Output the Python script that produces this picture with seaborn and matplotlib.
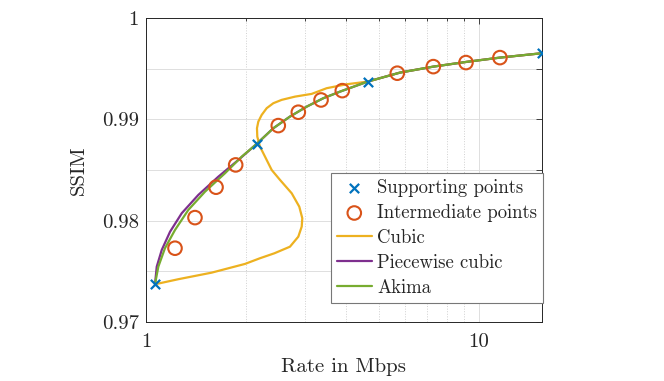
import matplotlib
matplotlib.use('Agg')
import matplotlib.pyplot as plt
import numpy as np
import pandas as pd
import seaborn as sns
from matplotlib.ticker import FixedLocator, FixedFormatter, NullFormatter

# Puntos de soporte (medidos)
sup_rate = [1.064, 2.149, 4.63, 15.43]
sup_ssim = [0.97372, 0.98757, 0.99372, 0.99652]

# Puntos intermedios
int_rate = [1.222, 1.403, 1.623, 1.859, 2.496, 2.867, 3.355, 3.886, 5.684, 7.292, 9.14, 11.56]
int_ssim = [0.97728, 0.98030, 0.98330, 0.98550, 0.98938, 0.99070, 0.99191, 0.99283,
            0.99455, 0.99520, 0.99560, 0.99609]

# Curva cubica
cub_rate = [1.064, 1.250, 1.575, 1.983, 2.199, 2.43, 2.706, 2.867, 2.935, 2.947, 2.886,
            2.739, 2.526, 2.385, 2.277, 2.199, 2.159, 2.154, 2.174, 2.225, 2.304, 2.412,
            2.556, 2.803, 3.145, 3.488, 4.005, 4.63, 5.791, 7.292, 9.186, 11.56, 15.43]
cub_ssim = [0.97372, 0.97422, 0.97487, 0.97573, 0.97629, 0.97678, 0.97743, 0.97842,
            0.97941, 0.98024, 0.98138, 0.98270, 0.98402, 0.98500, 0.98632, 0.98731,
            0.98829, 0.98912, 0.98977, 0.99043, 0.99110, 0.99159, 0.99192, 0.99224,
            0.99251, 0.99307, 0.99346, 0.99372, 0.99461, 0.99520, 0.99567, 0.99609, 0.99652]

# Piecewise cubic
pch_rate = [1.064, 1.077, 1.115, 1.181, 1.280, 1.436, 1.649, 1.894, 2.149, 2.412, 2.706,
            3.038, 3.407, 3.824, 4.63, 5.791, 7.292, 9.186, 11.56, 15.43]
pch_ssim = [0.97372, 0.97546, 0.97711, 0.97891, 0.98073, 0.98254, 0.98434, 0.98599,
            0.98757, 0.98912, 0.99027, 0.99125, 0.99208, 0.99273, 0.99372, 0.99461,
            0.99520, 0.99567, 0.99609, 0.99652]

# Akima
aki_rate = [1.064, 1.089, 1.140, 1.222, 1.340, 1.504, 1.727, 1.939, 2.149, 2.412, 2.706,
            3.038, 3.407, 3.824, 4.63, 5.791, 7.292, 9.186, 11.56, 15.43]
aki_ssim = [0.97372, 0.97546, 0.97728, 0.97908, 0.98106, 0.98286, 0.98468, 0.98632,
            0.98757, 0.98912, 0.99027, 0.99125, 0.99208, 0.99273, 0.99372, 0.99461,
            0.99520, 0.99567, 0.99609, 0.99652]

sns.set_style('white')
plt.rcParams['font.family'] = ['cmr10', 'DejaVu Serif']
plt.rcParams['axes.formatter.use_mathtext'] = True

fig = plt.figure(figsize=(6.64, 3.81), dpi=100)
ax = fig.add_axes([0.2199, 0.1549, 0.5959, 0.7979])

azul, naranja, amarillo, morado, verde = '#0072BD', '#D95319', '#EDB120', '#7E2F8E', '#77AC30'

sns.lineplot(x=cub_rate, y=cub_ssim, sort=False, estimator=None, color=amarillo, lw=1.6, ax=ax, label='Cubic')
sns.lineplot(x=pch_rate, y=pch_ssim, sort=False, estimator=None, color=morado, lw=1.6, ax=ax, label='Piecewise cubic')
sns.lineplot(x=aki_rate, y=aki_ssim, sort=False, estimator=None, color=verde, lw=1.6, ax=ax, label='Akima')
sns.scatterplot(x=int_rate, y=int_ssim, marker='o', s=95, facecolors='none', edgecolor=naranja,
                linewidth=1.5, ax=ax, label='Intermediate points', zorder=3)
sns.scatterplot(x=sup_rate, y=sup_ssim, marker='x', s=45, color=azul, linewidth=1.6, ax=ax,
                label='Supporting points', zorder=4)

ax.set_xscale('log')
ax.set_xlim(1, 15.43)
ax.set_ylim(0.97, 1.0)

ax.xaxis.set_major_locator(FixedLocator([1, 10]))
ax.xaxis.set_major_formatter(FixedFormatter(['1', '10']))
ax.xaxis.set_minor_locator(FixedLocator([2, 3, 4, 5, 6, 7, 8, 9]))
ax.xaxis.set_minor_formatter(NullFormatter())
yt = [0.97, 0.975, 0.98, 0.985, 0.99, 0.995, 1.0]
ax.yaxis.set_major_locator(FixedLocator(yt))
ax.yaxis.set_major_formatter(FixedFormatter(['0.97', '', '0.98', '', '0.99', '', '1']))

ax.tick_params(which='both', direction='in', top=True, right=True, labelsize=15,
               color='#262626', width=0.6)
ax.tick_params(which='major', length=4)
ax.tick_params(axis='x', which='major', pad=8)
ax.tick_params(axis='y', which='major', pad=5)
ax.tick_params(which='minor', length=2.5)
ax.grid(which='major', color='#dedede', lw=0.7, ls='-')
ax.grid(which='minor', axis='x', color='#d0d0d0', lw=0.7, ls=':')
ax.set_axisbelow(True)
for s in ax.spines.values():
    s.set_color('#262626')
    s.set_linewidth(0.7)

ax.set_xlabel('Rate in Mbps', fontsize=15, labelpad=5)
ax.set_ylabel('SSIM', fontsize=15, labelpad=10)

h, l = ax.get_legend_handles_labels()
orden = ['Supporting points', 'Intermediate points', 'Cubic', 'Piecewise cubic', 'Akima']
hh = [h[l.index(k)] for k in orden]
leg = ax.legend(hh, orden, loc='lower right', bbox_to_anchor=(1.003, 0.0635), fontsize=13.5,
                frameon=True, fancybox=False, edgecolor='#777777', framealpha=1,
                borderaxespad=0, labelspacing=0.38, handlelength=1.85, handletextpad=0.3,
                borderpad=0.3)
leg.get_frame().set_linewidth(0.8)
ax.legend_ = leg

fig.savefig('out.png', dpi=100)
